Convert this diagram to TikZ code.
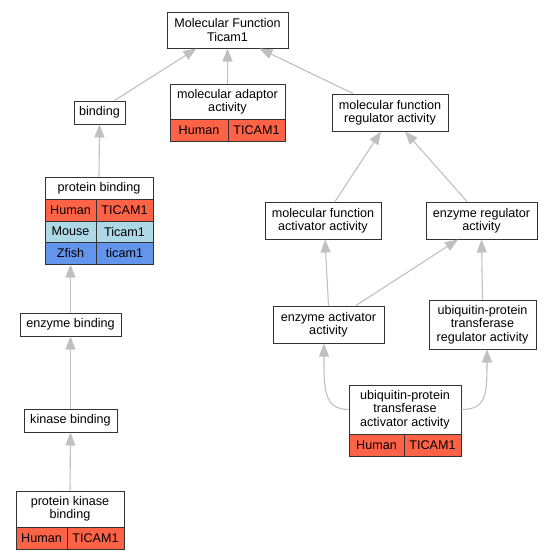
\documentclass[tikz,border=0pt]{standalone}
\usepackage{fontspec}
\setmainfont{Liberation Sans}
\usetikzlibrary{arrows.meta}
\definecolor{hum}{HTML}{FF6347}
\definecolor{mou}{HTML}{ADD8E6}
\definecolor{zfi}{HTML}{6495ED}
\definecolor{edg}{HTML}{C0C0C0}
\definecolor{brd}{HTML}{333333}
\tikzset{
  box/.style={draw=brd, line width=1pt, inner sep=0pt, align=center,
    font=\fontsize{12.6}{13.4}\selectfont},
  edge/.style={draw=edg, line width=1.1pt, -{Triangle[length=13pt,width=10pt]}}
}
\newcommand{\bx}[7][white]{%
  \node[box, fill=#1, minimum width={(#5-#3)*1pt}, minimum height={(#6-#4)*1pt}]
    (#2) at ({(#3+#5)/2},{(#4+#6)/2}) {#7};}
\begin{document}
\begin{tikzpicture}[x=1pt,y=-1pt]
\useasboundingbox (0,0) rectangle (552,560);
% plain boxes
\bx{mf}{167}{12}{288}{48}{Molecular Function\\Ticam1}
\bx{bind}{74}{101}{125}{124}{binding}
\bx{mfreg}{332}{94}{448}{131}{molecular function\\regulator activity}
\bx{mfact}{265}{202}{381}{239}{molecular function\\activator activity}
\bx{enzreg}{426}{202}{537}{239}{enzyme regulator\\activity}
\bx{enzb}{20}{313}{121}{336}{enzyme binding}
\bx{kinb}{24}{409}{117}{432}{kinase binding}
\bx{eaa}{273}{306}{384}{343}{enzyme activator\\activity}
\bx{utr}{429}{300}{536}{349}{ubiquitin-protein\\transferase\\regulator activity}
% molecular adaptor activity
\bx{mad}{170}{84}{285}{119}{molecular adaptor\\activity}
\bx[hum]{madA}{170}{119}{228}{141}{Human}
\bx[hum]{madB}{228}{119}{285}{141}{TICAM1}
% protein binding
\bx{pb}{45}{177}{153}{199}{protein binding}
\bx[hum]{pbA}{45}{199}{96}{221}{Human}
\bx[hum]{pbB}{96}{199}{153}{221}{TICAM1}
\bx[mou]{pbC}{45}{221}{96}{242}{Mouse}
\bx[mou]{pbD}{96}{221}{153}{242}{Ticam1}
\bx[zfi]{pbE}{45}{242}{96}{264}{Zfish}
\bx[zfi]{pbF}{96}{242}{153}{264}{ticam1}
% protein kinase binding
\bx{pkb}{16}{491}{124}{527}{protein kinase\\binding}
\bx[hum]{pkbA}{16}{527}{67}{549}{Human}
\bx[hum]{pkbB}{67}{527}{124}{549}{TICAM1}
% ubiquitin-protein transferase activator activity
\bx{uaa}{349}{385}{461}{434}{ubiquitin-protein\\transferase\\activator activity}
\bx[hum]{uaaA}{349}{434}{404}{456}{Human}
\bx[hum]{uaaB}{404}{434}{461}{456}{TICAM1}
% edges
\draw[edge] ([xshift=15pt]bind.north) -- ([xshift=-31pt]mf.south);
\draw[edge] (mad.north) -- (mf.south);
\draw[edge] ([xshift=-37pt]mfreg.north) -- ([xshift=32pt]mf.south);
\draw[edge] (pb.north) -- (bind.south);
\draw[edge] (enzb.north) -- (pbE.south);
\draw[edge] (kinb.north) -- (enzb.south);
\draw[edge] (pkb.north) -- (kinb.south);
\draw[edge] ([xshift=12pt]mfact.north) -- ([xshift=-9pt]mfreg.south);
\draw[edge] ([xshift=-14.5pt]enzreg.north) -- ([xshift=15pt]mfreg.south);
\draw[edge] (eaa.north) -- ([xshift=2pt]mfact.south);
\draw[edge] ([xshift=27.5pt]eaa.north) -- ([xshift=-23.5pt]enzreg.south);
\draw[edge] (utr.north) -- (enzreg.south);
\draw[edge] (uaa.west) .. controls +(-25pt,0pt) and +(0pt,-45pt) .. ([xshift=-4.5pt]eaa.south);
\draw[edge] (uaa.east) .. controls +(25pt,0pt) and +(0pt,-45pt) .. ([xshift=4.5pt]utr.south);
\end{tikzpicture}
\end{document}
